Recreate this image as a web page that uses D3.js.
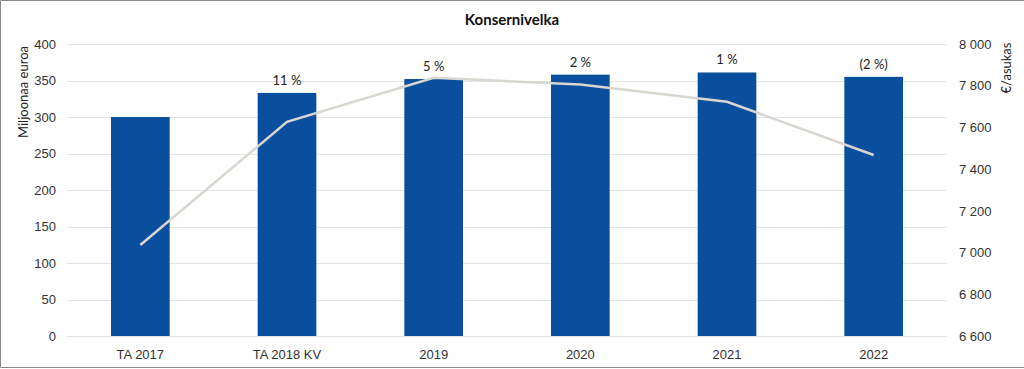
<!DOCTYPE html>
<meta charset="utf-8">
<style>
body { margin: 0; background: #fff; font-family: Lato, "Open Sans", sans-serif; }
.axis text { font-size: 13px; fill: #333; }
.axis path, .axis line { display: none; }
.grid line { stroke: #e4e4e4; stroke-width: 1px; }
</style>
<body>
<script src="https://d3js.org/d3.v7.min.js"></script>
<script>
var categories = ["TA 2017", "TA 2018 KV", "2019", "2020", "2021", "2022"];
var debt = [300, 333, 352, 358, 361, 355];           // Miljoonaa euroa
var perResident = [7036, 7627, 7838, 7806, 7723, 7468]; // €/asukas
var changeLabels = ["", "11 %", "5 %", "2 %", "1 %", "(2 %)"];
var leftTicks = [0, 50, 100, 150, 200, 250, 300, 350, 400];
var rightTicks = [6600, 6800, 7000, 7200, 7400, 7600, 7800, 8000];

var W = 1024, H = 369;
var margin = { top: 44, right: 77, bottom: 33, left: 67 };
var width = W - margin.left - margin.right;
var height = H - margin.top - margin.bottom;

var svg = d3.select("body").append("svg")
  .attr("width", W)
  .attr("height", H);

// frame: top, left, bottom only
svg.append("path")
  .attr("d", "M" + W + ",0.5H0.5V" + (H - 1.5) + "H" + W)
  .style("fill", "none")
  .style("stroke", "#8a8a8a");

var g = svg.append("g")
  .attr("transform", "translate(" + margin.left + "," + margin.top + ")");

var x = d3.scaleBand()
  .domain(categories)
  .range([0, width])
  .paddingInner(0.6)
  .paddingOuter(0.3);

var y = d3.scaleLinear().domain([0, 400]).range([height, 0]);
var y2 = d3.scaleLinear().domain([6600, 8000]).range([height, 0]);

// grid
g.append("g").attr("class", "grid")
  .selectAll("line")
  .data(leftTicks)
  .enter().append("line")
    .attr("x1", 0).attr("x2", width)
    .attr("y1", function(d) { return Math.round(y(d)) + 0.5; })
    .attr("y2", function(d) { return Math.round(y(d)) + 0.5; });

// bars
g.selectAll("rect.bar")
  .data(debt)
  .enter().append("rect")
    .attr("class", "bar")
    .attr("x", function(d, i) { return x(categories[i]); })
    .attr("width", x.bandwidth())
    .attr("y", function(d) { return y(d); })
    .attr("height", function(d) { return height - y(d); })
    .style("fill", "#0a4f9e");

// change labels
g.selectAll("text.lbl")
  .data(changeLabels)
  .enter().append("text")
    .attr("class", "lbl")
    .attr("x", function(d, i) { return x(categories[i]) + x.bandwidth() / 2; })
    .attr("y", function(d, i) { return y(debt[i]) - 8; })
    .attr("text-anchor", "middle")
    .style("font-size", "13px")
    .style("fill", "#222")
    .text(function(d) { return d; });

// line
var line = d3.line()
  .x(function(d, i) { return x(categories[i]) + x.bandwidth() / 2; })
  .y(function(d) { return y2(d); });

g.append("path")
  .datum(perResident)
  .attr("d", line)
  .style("fill", "none")
  .style("stroke", "#d9d6d0")
  .style("stroke-width", 2.5);

// axes
g.append("g").attr("class", "axis")
  .call(d3.axisLeft(y).tickValues(leftTicks).tickSize(0).tickPadding(11));

g.append("g").attr("class", "axis")
  .attr("transform", "translate(" + width + ",0)")
  .call(d3.axisRight(y2).tickValues(rightTicks).tickSize(0).tickPadding(12)
    .tickFormat(function(d) { return d3.format(",")(d).replace(",", " "); }));

g.append("g").attr("class", "axis")
  .attr("transform", "translate(0," + height + ")")
  .call(d3.axisBottom(x).tickSize(0).tickPadding(14));

// titles
svg.append("text")
  .attr("x", W / 2).attr("y", 25)
  .attr("text-anchor", "middle")
  .style("font-size", "15px")
  .style("font-weight", "bold")
  .style("fill", "#111")
  .text("Konsernivelka");

svg.append("text")
  .attr("transform", "translate(28,92) rotate(-90)")
  .attr("text-anchor", "middle")
  .style("font-size", "13px")
  .style("fill", "#222")
  .text("Miljoonaa euroa");

svg.append("text")
  .attr("transform", "translate(1011,68) rotate(-90)")
  .attr("text-anchor", "middle")
  .style("font-size", "13px")
  .style("fill", "#222")
  .text("€/asukas");
</script>
</body>
